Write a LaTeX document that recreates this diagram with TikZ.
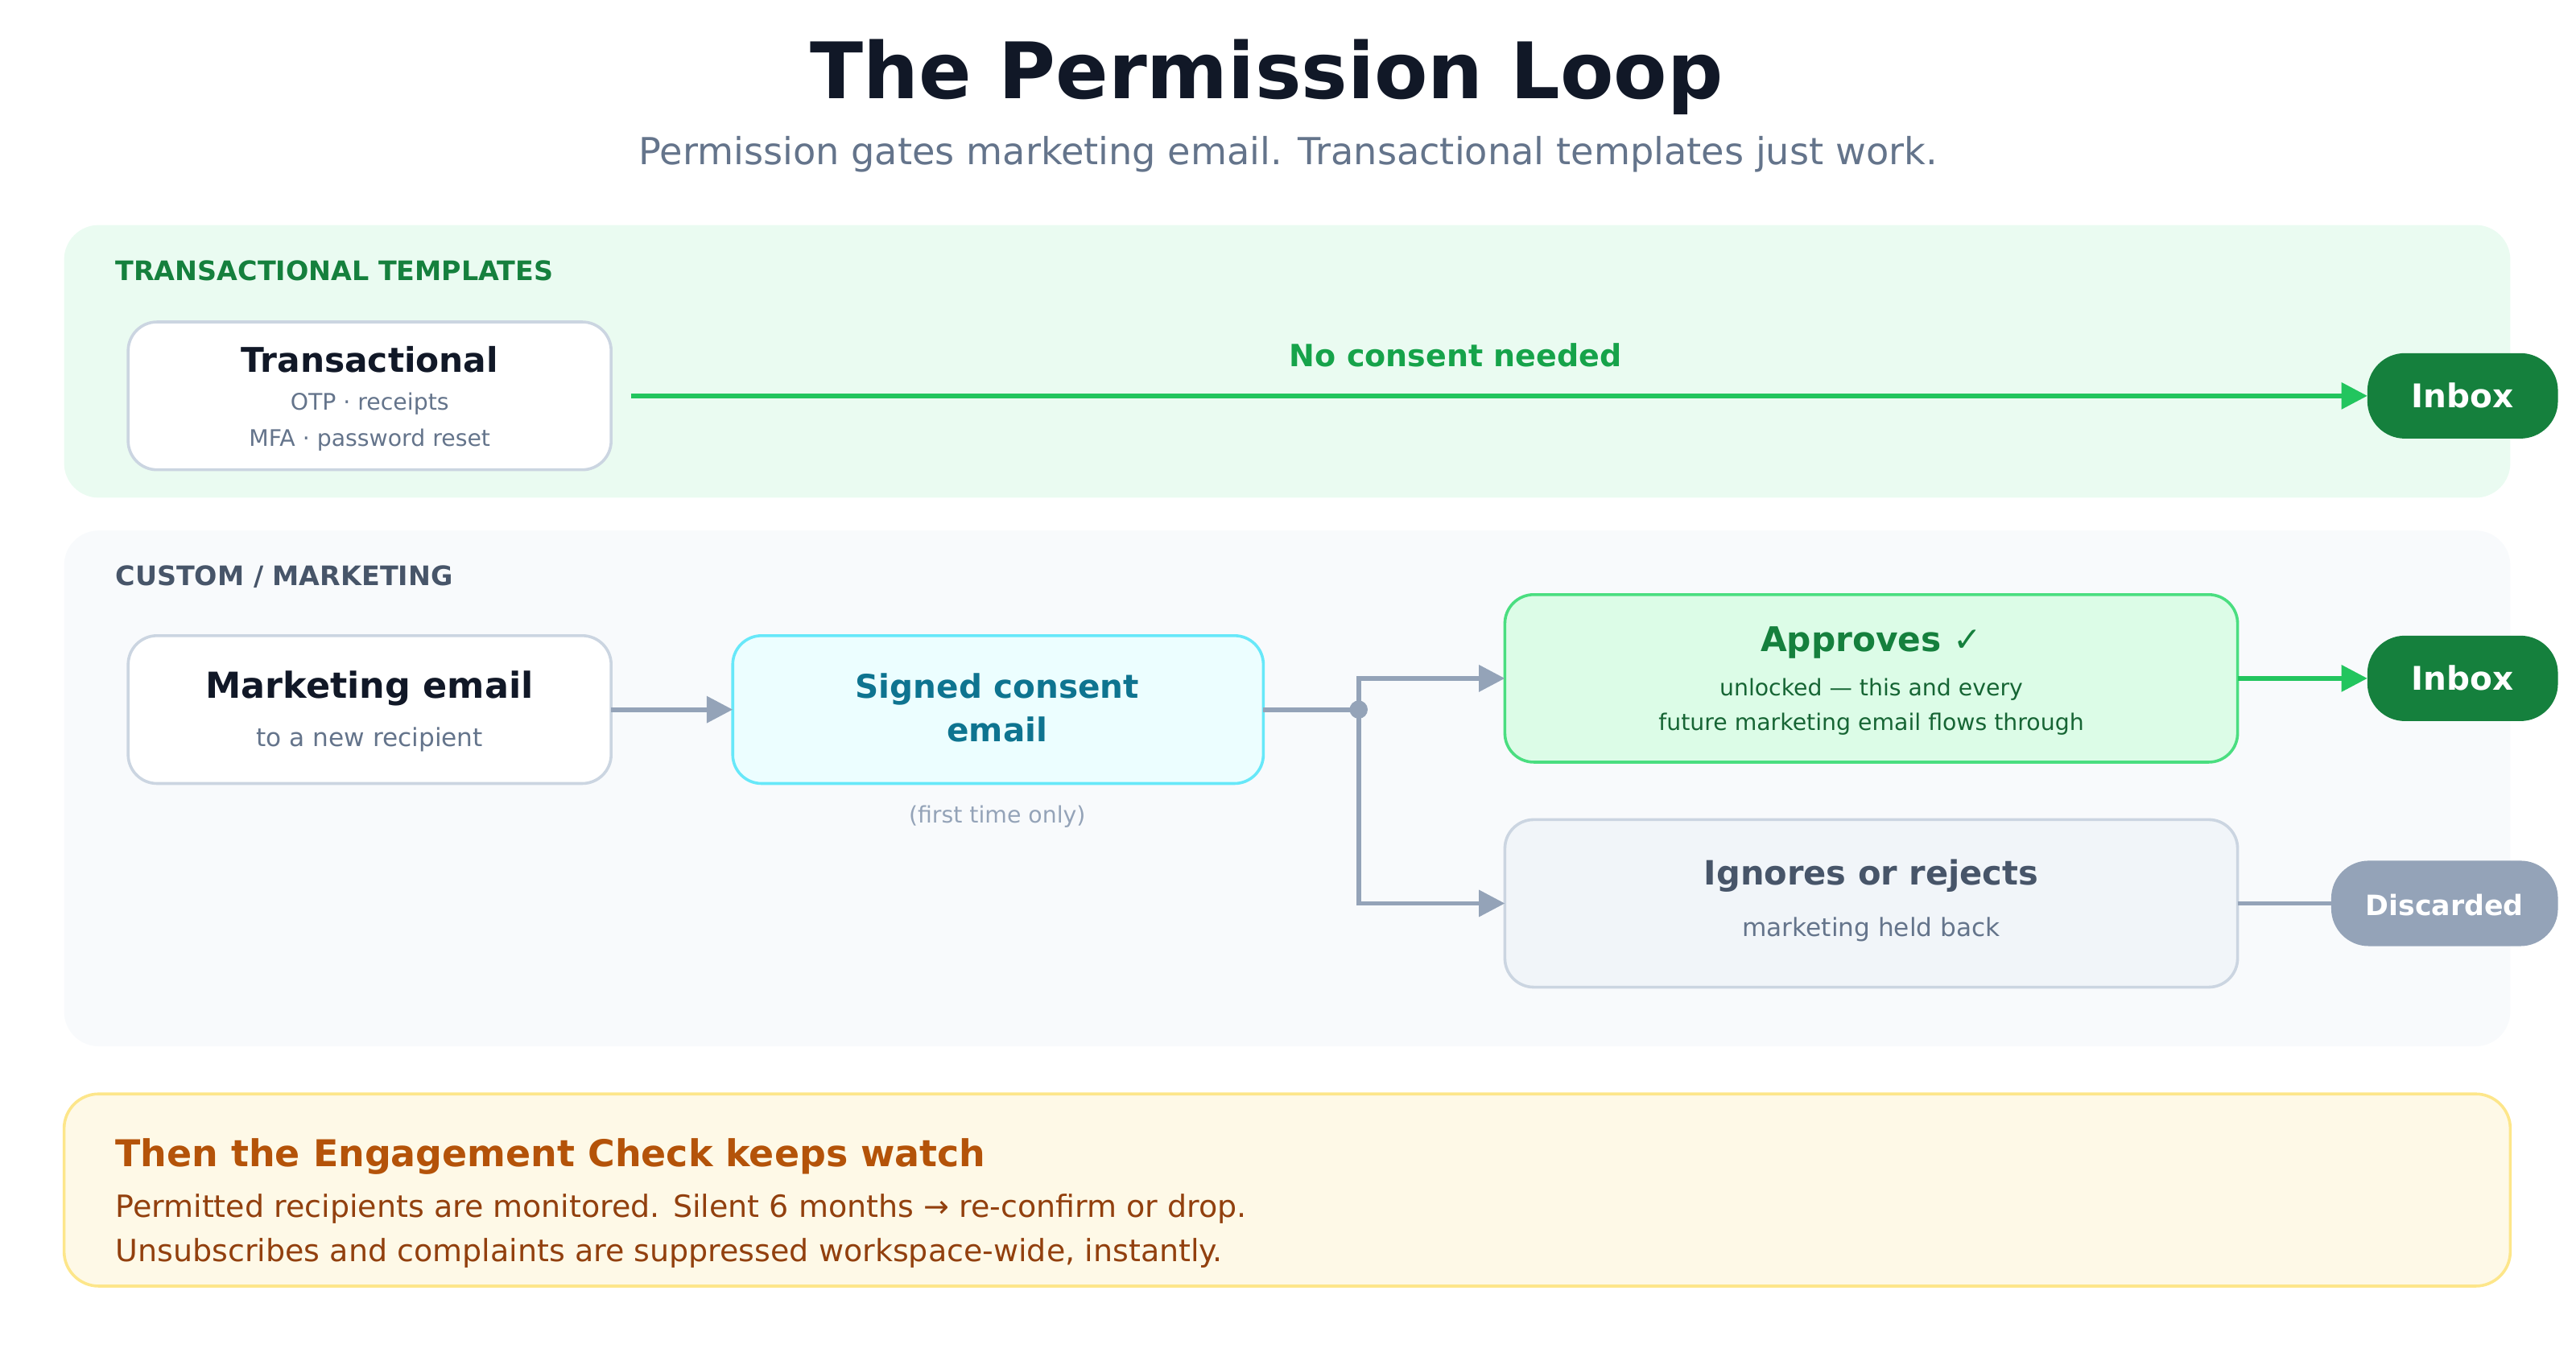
\documentclass[tikz,border=0pt]{standalone}
\usepackage{fontspec}
\setmainfont{DejaVu Sans}
\usetikzlibrary{positioning,arrows.meta}
\definecolor{ink}{HTML}{111827}
\definecolor{slate}{HTML}{64748B}
\definecolor{slatedk}{HTML}{475569}
\definecolor{edgegray}{HTML}{94A3B8}
\definecolor{boxline}{HTML}{CBD5E1}
\definecolor{grnbg}{HTML}{EAFBF1}
\definecolor{grndk}{HTML}{15803D}
\definecolor{grnln}{HTML}{22C55E}
\definecolor{grntx}{HTML}{16A34A}
\definecolor{cyanbg}{HTML}{ECFEFF}
\definecolor{cyanln}{HTML}{67E8F9}
\definecolor{cyantx}{HTML}{0E7490}
\definecolor{okbg}{HTML}{DCFCE7}
\definecolor{okln}{HTML}{4ADE80}
\definecolor{oktx}{HTML}{166534}
\definecolor{greybg}{HTML}{F1F5F9}
\definecolor{bandbg}{HTML}{F8FAFC}
\definecolor{notebg}{HTML}{FEF9E7}
\definecolor{noteln}{HTML}{FDE68A}
\definecolor{notehd}{HTML}{B45309}
\definecolor{notetx}{HTML}{92400E}
\tikzstyle{band} = [rounded corners=12pt, draw=none]
\tikzstyle{card} = [draw=boxline, fill=white, rounded corners=10pt, line width=1pt]
\tikzstyle{pill} = [rounded corners=13pt, text=white, font=\bfseries]
\tikzstyle{lefttext} = [anchor=west, inner sep=0pt]
\tikzstyle{arrow} = [line width=1.6pt, -{Triangle[length=9pt,width=9pt]}]
\begin{document}
\begin{tikzpicture}[x=0.02cm, y=-0.02cm]
    \useasboundingbox (0,0) rectangle (1568,833);
    % title
    \node[font=\bfseries\fontsize{27}{31}\selectfont, text=ink] (title) at (771,47) {The Permission Loop};
    \node[font=\fontsize{12.9}{15}\selectfont, text=slate] (subtitle) at (784,94) {Permission gates marketing email. Transactional templates just work.};

    % bands
    \fill[band, grnbg] (39,137) rectangle (1528,303);
    \fill[band, bandbg] (39,323) rectangle (1528,637);
    \draw[band, draw=noteln, fill=notebg, line width=1pt] (39,666) rectangle (1528,783);
    \node[lefttext, font=\bfseries\fontsize{9.3}{11}\selectfont, text=grndk] (lbltrans) at (70,165) {TRANSACTIONAL TEMPLATES};
    \node[lefttext, font=\bfseries\fontsize{9.3}{11}\selectfont, text=slatedk] (lblmkt) at (70,351) {CUSTOM / MARKETING};

    % transactional row
    \draw[card] (78,196) rectangle (372,286);
    \node[font=\bfseries\fontsize{11.8}{13}\selectfont, text=ink] (trans) at (225,219) {Transactional};
    \node[font=\fontsize{7.9}{9}\selectfont, text=slate] at (225,246) {OTP · receipts};
    \node[font=\fontsize{7.9}{9}\selectfont, text=slate] at (225,268) {MFA · password reset};
    \coordinate (transout) at (384,241);
    \fill[pill, grndk] (1441,215) rectangle (1557,267);
    \node[pill, font=\bfseries\fontsize{11.3}{13}\selectfont] (inbox1) at (1499,241) {Inbox};
    \draw[arrow, grnln] (transout) -- (1441,241);
    \node[font=\bfseries\fontsize{10.6}{12}\selectfont, text=grntx] (noconsent) at (886,216) {No consent needed};

    % marketing row
    \draw[card] (78,387) rectangle (372,477);
    \node[font=\bfseries\fontsize{12.4}{14}\selectfont, text=ink] (mkt) at (225,419) {Marketing email};
    \node[font=\fontsize{8.7}{10}\selectfont, text=slate] at (225,450) {to a new recipient};
    \draw[card, draw=cyanln, fill=cyanbg] (446,387) rectangle (769,477);
    \node[align=center, font=\bfseries\fontsize{11.3}{15}\selectfont, text=cyantx] (consent) at (607,431) {Signed consent\\email};
    \node[font=\fontsize{7.9}{9}\selectfont, text=edgegray] at (607,497) {(first time only)};
    \draw[arrow, edgegray] (372,432) -- (446,432);

    \draw[card, draw=okln, fill=okbg] (916,362) rectangle (1362,464);
    \node[font=\bfseries\fontsize{11.8}{13}\selectfont, text=grndk] (approves) at (1139,391) {Approves ✓};
    \node[font=\fontsize{7.9}{9}\selectfont, text=oktx] at (1139,420) {unlocked — this and every};
    \node[font=\fontsize{7.9}{9}\selectfont, text=oktx] at (1139,441) {future marketing email flows through};

    \draw[card, fill=greybg] (916,499) rectangle (1362,601);
    \node[font=\bfseries\fontsize{11.6}{13}\selectfont, text=slatedk] (ignores) at (1139,533) {Ignores or rejects};
    \node[font=\fontsize{8.7}{10}\selectfont, text=slate] at (1139,566) {marketing held back};

    \coordinate (split) at (827,432);
    \draw[line width=1.6pt, edgegray] (769,432) -- (split);
    \fill[edgegray] (split) circle (5.5);
    \draw[arrow, edgegray] (split) |- (916,413);
    \draw[arrow, edgegray] (split) |- (916,550);

    \fill[pill, grndk] (1441,387) rectangle (1557,439);
    \node[pill, font=\bfseries\fontsize{11.3}{13}\selectfont] (inbox2) at (1499,413) {Inbox};
    \draw[arrow, grnln] (1362,413) -- (1441,413);
    \fill[pill, edgegray] (1419,524) rectangle (1557,576);
    \node[pill, font=\bfseries\fontsize{9.7}{11}\selectfont] (discard) at (1488,551) {Discarded};
    \draw[line width=1.6pt, edgegray] (1362,550) -- (1419,550);

    % engagement note
    \node[lefttext, font=\bfseries\fontsize{12.8}{15}\selectfont, text=notehd] (notehead) at (70,704) {Then the Engagement Check keeps watch};
    \node[lefttext, font=\fontsize{10.6}{12}\selectfont, text=notetx] (note1) at (70,736) {Permitted recipients are monitored. Silent 6 months → re-confirm or drop.};
    \node[lefttext, font=\fontsize{10.6}{12}\selectfont, text=notetx] (note2) at (70,763) {Unsubscribes and complaints are suppressed workspace-wide, instantly.};
\end{tikzpicture}
\end{document}
